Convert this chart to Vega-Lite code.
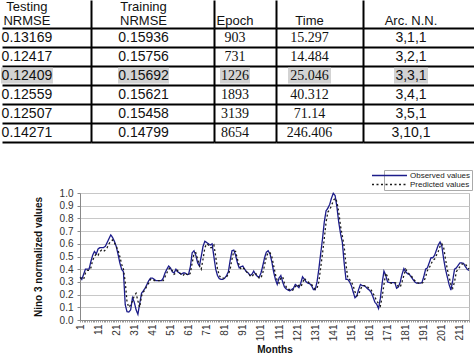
{
"$schema":"https://vega.github.io/schema/vega-lite/v6.json",
"padding":0,
"background":"white",
"spacing":0,
"config":{
 "view":{"stroke":null},
 "axis":{"labelFont":"Liberation Sans","titleFont":"Liberation Sans"},
 "legend":{"orient":"none","legendX":382,"legendY":170,"title":null,"direction":"vertical","labelFont":"Liberation Sans","labelFontSize":8,"labelColor":"#222","symbolType":"M-7,0M-5,0H5","symbolSize":49,"symbolStrokeWidth":1.5,"symbolFillColor":"transparent","strokeColor":"#aaaaaa","fillColor":"white","padding":1,"rowPadding":0,"labelOffset":16}
},
"datasets":{
 "headers":[
  {"col":"t1","line":1,"h":"Testing"},{"col":"t1","line":2,"h":"NRMSE"},
  {"col":"t2","line":1,"h":"Training"},{"col":"t2","line":2,"h":"NRMSE"},
  {"col":"ep","line":2,"h":"Epoch"},{"col":"tm","line":2,"h":"Time"},{"col":"arc","line":2,"h":"Arc. N.N."}
 ],
 "table":[
  {"r":1,"t1":"0.13169","t2":"0.15936","ep":"903","tm":"15.297","arc":"3,1,1","best":false},
  {"r":2,"t1":"0.12417","t2":"0.15756","ep":"731","tm":"14.484","arc":"3,2,1","best":false},
  {"r":3,"t1":"0.12409","t2":"0.15692","ep":"1226","tm":"25.046","arc":"3,3,1","best":true},
  {"r":4,"t1":"0.12559","t2":"0.15621","ep":"1893","tm":"40.312","arc":"3,4,1","best":false},
  {"r":5,"t1":"0.12507","t2":"0.15458","ep":"3139","tm":"71.14","arc":"3,5,1","best":false},
  {"r":6,"t1":"0.14271","t2":"0.14799","ep":"8654","tm":"246.406","arc":"3,10,1","best":false}
 ],
 "series":[
{"m":1,"obs":0.34,"pred":0.33},{"m":2,"obs":0.32,"pred":0.33},{"m":3,"obs":0.36,"pred":0.32},{"m":4,"obs":0.40,"pred":0.37},{"m":5,"obs":0.40,"pred":0.39},{"m":6,"obs":0.40,"pred":0.39},{"m":7,"obs":0.46,"pred":0.41},{"m":8,"obs":0.51,"pred":0.47},{"m":9,"obs":0.54,"pred":0.50},{"m":10,"obs":0.52,"pred":0.52},
{"m":11,"obs":0.56,"pred":0.51},{"m":12,"obs":0.57,"pred":0.54},{"m":13,"obs":0.57,"pred":0.55},{"m":14,"obs":0.57,"pred":0.54},{"m":15,"obs":0.58,"pred":0.55},{"m":16,"obs":0.61,"pred":0.57},{"m":17,"obs":0.64,"pred":0.60},{"m":18,"obs":0.67,"pred":0.62},{"m":19,"obs":0.65,"pred":0.63},{"m":20,"obs":0.62,"pred":0.61},
{"m":21,"obs":0.58,"pred":0.58},{"m":22,"obs":0.52,"pred":0.55},{"m":23,"obs":0.45,"pred":0.50},{"m":24,"obs":0.40,"pred":0.44},{"m":25,"obs":0.38,"pred":0.40},{"m":26,"obs":0.12,"pred":0.30},{"m":27,"obs":0.065,"pred":0.14},{"m":28,"obs":0.063,"pred":0.10},{"m":29,"obs":0.08,"pred":0.12},{"m":30,"obs":0.175,"pred":0.15},
{"m":31,"obs":0.14,"pred":0.19},{"m":32,"obs":0.08,"pred":0.21},{"m":33,"obs":0.045,"pred":0.15},{"m":34,"obs":0.13,"pred":0.10},{"m":35,"obs":0.21,"pred":0.19},{"m":36,"obs":0.23,"pred":0.22},{"m":37,"obs":0.25,"pred":0.24},{"m":38,"obs":0.28,"pred":0.27},{"m":39,"obs":0.31,"pred":0.29},{"m":40,"obs":0.33,"pred":0.32},
{"m":41,"obs":0.33,"pred":0.32},{"m":42,"obs":0.32,"pred":0.31},{"m":43,"obs":0.31,"pred":0.31},{"m":44,"obs":0.31,"pred":0.31},{"m":45,"obs":0.31,"pred":0.31},{"m":46,"obs":0.31,"pred":0.31},{"m":47,"obs":0.33,"pred":0.31},{"m":48,"obs":0.37,"pred":0.34},{"m":49,"obs":0.40,"pred":0.37},{"m":50,"obs":0.425,"pred":0.40},
{"m":51,"obs":0.41,"pred":0.41},{"m":52,"obs":0.38,"pred":0.39},{"m":53,"obs":0.37,"pred":0.36},{"m":54,"obs":0.40,"pred":0.37},{"m":55,"obs":0.38,"pred":0.39},{"m":56,"obs":0.37,"pred":0.37},{"m":57,"obs":0.36,"pred":0.36},{"m":58,"obs":0.37,"pred":0.35},{"m":59,"obs":0.37,"pred":0.37},{"m":60,"obs":0.36,"pred":0.36},
{"m":61,"obs":0.36,"pred":0.35},{"m":62,"obs":0.42,"pred":0.37},{"m":63,"obs":0.53,"pred":0.45},{"m":64,"obs":0.545,"pred":0.52},{"m":65,"obs":0.51,"pred":0.53},{"m":66,"obs":0.45,"pred":0.48},{"m":67,"obs":0.425,"pred":0.43},{"m":68,"obs":0.50,"pred":0.40},{"m":69,"obs":0.58,"pred":0.48},{"m":70,"obs":0.62,"pred":0.57},
{"m":71,"obs":0.61,"pred":0.60},{"m":72,"obs":0.60,"pred":0.59},{"m":73,"obs":0.59,"pred":0.57},{"m":74,"obs":0.60,"pred":0.57},{"m":75,"obs":0.50,"pred":0.59},{"m":76,"obs":0.40,"pred":0.50},{"m":77,"obs":0.35,"pred":0.40},{"m":78,"obs":0.325,"pred":0.35},{"m":79,"obs":0.32,"pred":0.33},{"m":80,"obs":0.32,"pred":0.33},
{"m":81,"obs":0.33,"pred":0.33},{"m":82,"obs":0.35,"pred":0.34},{"m":83,"obs":0.38,"pred":0.36},{"m":84,"obs":0.47,"pred":0.40},{"m":85,"obs":0.545,"pred":0.48},{"m":86,"obs":0.55,"pred":0.54},{"m":87,"obs":0.51,"pred":0.54},{"m":88,"obs":0.45,"pred":0.48},{"m":89,"obs":0.41,"pred":0.43},{"m":90,"obs":0.42,"pred":0.40},
{"m":91,"obs":0.425,"pred":0.41},{"m":92,"obs":0.40,"pred":0.40},{"m":93,"obs":0.38,"pred":0.38},{"m":94,"obs":0.37,"pred":0.37},{"m":95,"obs":0.35,"pred":0.35},{"m":96,"obs":0.36,"pred":0.34},{"m":97,"obs":0.385,"pred":0.36},{"m":98,"obs":0.36,"pred":0.37},{"m":99,"obs":0.345,"pred":0.35},{"m":100,"obs":0.335,"pred":0.33},
{"m":101,"obs":0.37,"pred":0.33},{"m":102,"obs":0.425,"pred":0.37},{"m":103,"obs":0.49,"pred":0.43},{"m":104,"obs":0.535,"pred":0.50},{"m":105,"obs":0.545,"pred":0.53},{"m":106,"obs":0.52,"pred":0.53},{"m":107,"obs":0.46,"pred":0.50},{"m":108,"obs":0.38,"pred":0.43},{"m":109,"obs":0.32,"pred":0.36},{"m":110,"obs":0.28,"pred":0.31},
{"m":111,"obs":0.33,"pred":0.29},{"m":112,"obs":0.35,"pred":0.33},{"m":113,"obs":0.30,"pred":0.34},{"m":114,"obs":0.26,"pred":0.29},{"m":115,"obs":0.245,"pred":0.26},{"m":116,"obs":0.235,"pred":0.24},{"m":117,"obs":0.23,"pred":0.24},{"m":118,"obs":0.24,"pred":0.23},{"m":119,"obs":0.25,"pred":0.24},{"m":120,"obs":0.28,"pred":0.26},
{"m":121,"obs":0.27,"pred":0.28},{"m":122,"obs":0.255,"pred":0.27},{"m":123,"obs":0.29,"pred":0.26},{"m":124,"obs":0.34,"pred":0.29},{"m":125,"obs":0.32,"pred":0.33},{"m":126,"obs":0.30,"pred":0.31},{"m":127,"obs":0.29,"pred":0.30},{"m":128,"obs":0.285,"pred":0.29},{"m":129,"obs":0.27,"pred":0.28},{"m":130,"obs":0.24,"pred":0.26},
{"m":131,"obs":0.24,"pred":0.24},{"m":132,"obs":0.30,"pred":0.25},{"m":133,"obs":0.40,"pred":0.30},{"m":134,"obs":0.52,"pred":0.41},{"m":135,"obs":0.635,"pred":0.52},{"m":136,"obs":0.77,"pred":0.64},{"m":137,"obs":0.86,"pred":0.77},{"m":138,"obs":0.88,"pred":0.85},{"m":139,"obs":0.91,"pred":0.87},{"m":140,"obs":0.96,"pred":0.90},
{"m":141,"obs":0.998,"pred":0.94},{"m":142,"obs":0.98,"pred":0.96},{"m":143,"obs":0.89,"pred":0.93},{"m":144,"obs":0.77,"pred":0.85},{"m":145,"obs":0.68,"pred":0.74},{"m":146,"obs":0.61,"pred":0.66},{"m":147,"obs":0.45,"pred":0.58},{"m":148,"obs":0.32,"pred":0.44},{"m":149,"obs":0.32,"pred":0.33},{"m":150,"obs":0.30,"pred":0.32},
{"m":151,"obs":0.27,"pred":0.30},{"m":152,"obs":0.22,"pred":0.27},{"m":153,"obs":0.175,"pred":0.22},{"m":154,"obs":0.19,"pred":0.19},{"m":155,"obs":0.24,"pred":0.20},{"m":156,"obs":0.28,"pred":0.24},{"m":157,"obs":0.27,"pred":0.27},{"m":158,"obs":0.27,"pred":0.27},{"m":159,"obs":0.26,"pred":0.27},{"m":160,"obs":0.245,"pred":0.26},
{"m":161,"obs":0.235,"pred":0.245},{"m":162,"obs":0.215,"pred":0.235},{"m":163,"obs":0.18,"pred":0.21},{"m":164,"obs":0.14,"pred":0.18},{"m":165,"obs":0.124,"pred":0.15},{"m":166,"obs":0.09,"pred":0.13},{"m":167,"obs":0.17,"pred":0.11},{"m":168,"obs":0.29,"pred":0.18},{"m":169,"obs":0.385,"pred":0.28},{"m":170,"obs":0.35,"pred":0.37},
{"m":171,"obs":0.30,"pred":0.34},{"m":172,"obs":0.295,"pred":0.30},{"m":173,"obs":0.295,"pred":0.29},{"m":174,"obs":0.295,"pred":0.295},{"m":175,"obs":0.295,"pred":0.295},{"m":176,"obs":0.25,"pred":0.29},{"m":177,"obs":0.26,"pred":0.26},{"m":178,"obs":0.30,"pred":0.26},{"m":179,"obs":0.36,"pred":0.30},{"m":180,"obs":0.405,"pred":0.35},
{"m":181,"obs":0.38,"pred":0.40},{"m":182,"obs":0.365,"pred":0.38},{"m":183,"obs":0.36,"pred":0.36},{"m":184,"obs":0.34,"pred":0.35},{"m":185,"obs":0.32,"pred":0.33},{"m":186,"obs":0.30,"pred":0.31},{"m":187,"obs":0.29,"pred":0.30},{"m":188,"obs":0.29,"pred":0.29},{"m":189,"obs":0.29,"pred":0.29},{"m":190,"obs":0.295,"pred":0.29},
{"m":191,"obs":0.34,"pred":0.30},{"m":192,"obs":0.40,"pred":0.34},{"m":193,"obs":0.41,"pred":0.39},{"m":194,"obs":0.45,"pred":0.41},{"m":195,"obs":0.49,"pred":0.44},{"m":196,"obs":0.49,"pred":0.47},{"m":197,"obs":0.51,"pred":0.48},{"m":198,"obs":0.55,"pred":0.51},{"m":199,"obs":0.59,"pred":0.54},{"m":200,"obs":0.614,"pred":0.58},
{"m":201,"obs":0.58,"pred":0.60},{"m":202,"obs":0.48,"pred":0.57},{"m":203,"obs":0.40,"pred":0.48},{"m":204,"obs":0.34,"pred":0.40},{"m":205,"obs":0.28,"pred":0.34},{"m":206,"obs":0.236,"pred":0.28},{"m":207,"obs":0.31,"pred":0.25},{"m":208,"obs":0.40,"pred":0.30},{"m":209,"obs":0.41,"pred":0.38},{"m":210,"obs":0.43,"pred":0.40},
{"m":211,"obs":0.45,"pred":0.42},{"m":212,"obs":0.45,"pred":0.44},{"m":213,"obs":0.446,"pred":0.44},{"m":214,"obs":0.42,"pred":0.44},{"m":215,"obs":0.40,"pred":0.42},{"m":216,"obs":0.39,"pred":0.40}
 ]
},
"vconcat":[
 {"hconcat":[
  {"width":89,"height":28,"data":{"name":"headers"},"transform":[{"filter":"datum.col === 't1'"}],
   "mark":{"type":"text","font":"Liberation Sans","fontSize":13,"color":"#111"},
   "encoding":{"x":{"datum":"t1","type":"nominal","scale":{"type":"point","align":0.28},"axis":null},
    "y":{"field":"line","type":"ordinal","scale":{"type":"band","domain":[1,2],"paddingInner":0,"paddingOuter":0},"axis":null},
    "text":{"field":"h"}}},
  {"width":123,"height":28,"data":{"name":"headers"},"transform":[{"filter":"datum.col === 't2'"}],
   "mark":{"type":"text","font":"Liberation Sans","fontSize":13,"color":"#111"},
   "encoding":{"x":{"datum":"t2","type":"nominal","scale":{"type":"point","align":0.427},"axis":null},
    "y":{"field":"line","type":"ordinal","scale":{"type":"band","domain":[1,2],"paddingInner":0,"paddingOuter":0},"axis":{"title":null,"labels":false,"ticks":false,"grid":false,"domain":true,"domainColor":"#000","domainWidth":2}},
    "text":{"field":"h"}}},
  {"width":62,"height":28,"data":{"name":"headers"},"transform":[{"filter":"datum.col === 'ep'"}],
   "mark":{"type":"text","font":"Liberation Sans","fontSize":13,"color":"#111"},
   "encoding":{"x":{"datum":"ep","type":"nominal","scale":{"type":"point","align":0.339},"axis":null},
    "y":{"field":"line","type":"ordinal","scale":{"type":"band","domain":[1,2],"paddingInner":0,"paddingOuter":0},"axis":{"title":null,"labels":false,"ticks":false,"grid":false,"domain":true,"domainColor":"#000","domainWidth":2}},
    "text":{"field":"h"}}},
  {"width":87,"height":28,"data":{"name":"headers"},"transform":[{"filter":"datum.col === 'tm'"}],
   "mark":{"type":"text","font":"Liberation Sans","fontSize":13,"color":"#111"},
   "encoding":{"x":{"datum":"tm","type":"nominal","scale":{"type":"point","align":0.385},"axis":null},
    "y":{"field":"line","type":"ordinal","scale":{"type":"band","domain":[1,2],"paddingInner":0,"paddingOuter":0},"axis":{"title":null,"labels":false,"ticks":false,"grid":false,"domain":true,"domainColor":"#000","domainWidth":2}},
    "text":{"field":"h"}}},
  {"width":112,"height":28,"data":{"name":"headers"},"transform":[{"filter":"datum.col === 'arc'"}],
   "mark":{"type":"text","font":"Liberation Sans","fontSize":13,"color":"#111"},
   "encoding":{"x":{"datum":"arc","type":"nominal","scale":{"type":"point","align":0.4286},"axis":null},
    "y":{"field":"line","type":"ordinal","scale":{"type":"band","domain":[1,2],"paddingInner":0,"paddingOuter":0},"axis":{"title":null,"labels":false,"ticks":false,"grid":false,"domain":true,"domainColor":"#000","domainWidth":2}},
    "text":{"field":"h"}}}
 ],"spacing":0,"bounds":"flush"},
 {"hconcat":[
  {"width":89,"height":114,"data":{"name":"table"},
   "encoding":{"x":{"datum":"t1","type":"nominal","scale":{"type":"point","align":0.28},"axis":null},
    "y":{"field":"r","type":"ordinal","scale":{"type":"band","paddingInner":0,"paddingOuter":0},"axis":{"title":null,"labels":false,"ticks":false,"domain":false,"grid":true,"tickBand":"extent","gridColor":"#000","gridWidth":2}}},
   "layer":[
    {"transform":[{"filter":"datum.best"}],"mark":{"type":"bar","width":52,"height":16,"color":"#d3d3d3"}},
    {"mark":{"type":"text","font":"Liberation Sans","fontSize":14,"color":"#111"},"encoding":{"text":{"field":"t1"}}}
   ]},
  {"width":123,"height":114,"data":{"name":"table"},
   "encoding":{"x":{"datum":"t2","type":"nominal","scale":{"type":"point","align":0.427},"axis":null},
    "y":{"field":"r","type":"ordinal","scale":{"type":"band","paddingInner":0,"paddingOuter":0},"axis":{"title":null,"labels":false,"ticks":false,"domain":true,"domainColor":"#000","domainWidth":2,"grid":true,"tickBand":"extent","gridColor":"#000","gridWidth":2}}},
   "layer":[
    {"transform":[{"filter":"datum.best"}],"mark":{"type":"bar","width":51,"height":16,"color":"#d3d3d3"}},
    {"mark":{"type":"text","font":"Liberation Sans","fontSize":14,"color":"#111"},"encoding":{"text":{"field":"t2"}}}
   ]},
  {"width":62,"height":114,"data":{"name":"table"},
   "encoding":{"x":{"datum":"ep","type":"nominal","scale":{"type":"point","align":0.339},"axis":null},
    "y":{"field":"r","type":"ordinal","scale":{"type":"band","paddingInner":0,"paddingOuter":0},"axis":{"title":null,"labels":false,"ticks":false,"domain":true,"domainColor":"#000","domainWidth":2,"grid":true,"tickBand":"extent","gridColor":"#000","gridWidth":2}}},
   "layer":[
    {"transform":[{"filter":"datum.best"}],"mark":{"type":"bar","width":30,"height":16,"color":"#d3d3d3"}},
    {"mark":{"type":"text","font":"Liberation Serif","fontSize":14,"color":"#111"},"encoding":{"text":{"field":"ep"}}}
   ]},
  {"width":87,"height":114,"data":{"name":"table"},
   "encoding":{"x":{"datum":"tm","type":"nominal","scale":{"type":"point","align":0.385},"axis":null},
    "y":{"field":"r","type":"ordinal","scale":{"type":"band","paddingInner":0,"paddingOuter":0},"axis":{"title":null,"labels":false,"ticks":false,"domain":true,"domainColor":"#000","domainWidth":2,"grid":true,"tickBand":"extent","gridColor":"#000","gridWidth":2}}},
   "layer":[
    {"transform":[{"filter":"datum.best"}],"mark":{"type":"bar","width":43,"height":16,"color":"#d3d3d3"}},
    {"mark":{"type":"text","font":"Liberation Serif","fontSize":14,"color":"#111"},"encoding":{"text":{"field":"tm"}}}
   ]},
  {"width":112,"height":114,"data":{"name":"table"},
   "encoding":{"x":{"datum":"arc","type":"nominal","scale":{"type":"point","align":0.4286},"axis":null},
    "y":{"field":"r","type":"ordinal","scale":{"type":"band","paddingInner":0,"paddingOuter":0},"axis":{"title":null,"labels":false,"ticks":false,"domain":true,"domainColor":"#000","domainWidth":2,"grid":true,"tickBand":"extent","gridColor":"#000","gridWidth":2}}},
   "layer":[
    {"transform":[{"filter":"datum.best"}],"mark":{"type":"bar","width":34,"height":16,"color":"#d3d3d3"}},
    {"mark":{"type":"text","font":"Liberation Sans","fontSize":14,"color":"#111"},"encoding":{"text":{"field":"arc"}}}
   ]}
 ],"spacing":0,"bounds":"flush"},
 {"width":474,"height":45,"data":{"values":[{}]},"mark":{"type":"text"},"encoding":{"text":{"value":""}}},
 {"hconcat":[
  {"width":78,"height":127,"data":{"values":[{}]},"mark":{"type":"text"},"encoding":{"text":{"value":""}}},
  {"width":389,"height":127,"data":{"name":"series"},
   "view":{"stroke":"#b8b8b8"},
   "transform":[{"fold":["obs","pred"],"as":["series","value"]}],
   "mark":{"type":"line","strokeWidth":1.3},
   "encoding":{
    "x":{"field":"m","type":"quantitative","scale":{"domain":[1,216],"nice":false,"zero":false},
     "axis":{"tickCount":216,"labelExpr":"(datum.value - 1) % 10 === 0 ? datum.value : ''","labelOverlap":false,"labelFlush":false,"labelBound":false,"labelAngle":270,"labelFontSize":10,"labelColor":"#333","labelPadding":2,"tickSize":2,"tickColor":"#999","domainColor":"#888","grid":false,"title":"Months","titleFontSize":10,"titleFontWeight":"bold","titleColor":"#111","titlePadding":4}},
    "y":{"field":"value","type":"quantitative","scale":{"domain":[0,1],"nice":false},
     "axis":{"values":[0,0.1,0.2,0.3,0.4,0.5,0.6,0.7,0.8,0.9,1],"format":".1f","labelFontSize":10,"labelColor":"#333","labelPadding":4,"tickSize":3,"tickColor":"#888","domainColor":"#888","grid":true,"gridColor":"#c8c8c8","title":"Nino 3 normalized values","titleFontSize":10,"titleFontWeight":"bold","titleColor":"#111","titlePadding":16}},
    "color":{"field":"series","type":"nominal","scale":{"domain":["obs","pred"],"range":["#1c1c8a","#1a1a1a"]},"legend":{"labelExpr":"datum.label === 'obs' ? 'Observed values' : 'Predicted values'"}},
    "strokeDash":{"field":"series","type":"nominal","scale":{"domain":["obs","pred"],"range":[[1,0],[2,2.5]]},"legend":{"labelExpr":"datum.label === 'obs' ? 'Observed values' : 'Predicted values'"}}
   }}
 ],"spacing":0,"bounds":"flush"}
]
}
